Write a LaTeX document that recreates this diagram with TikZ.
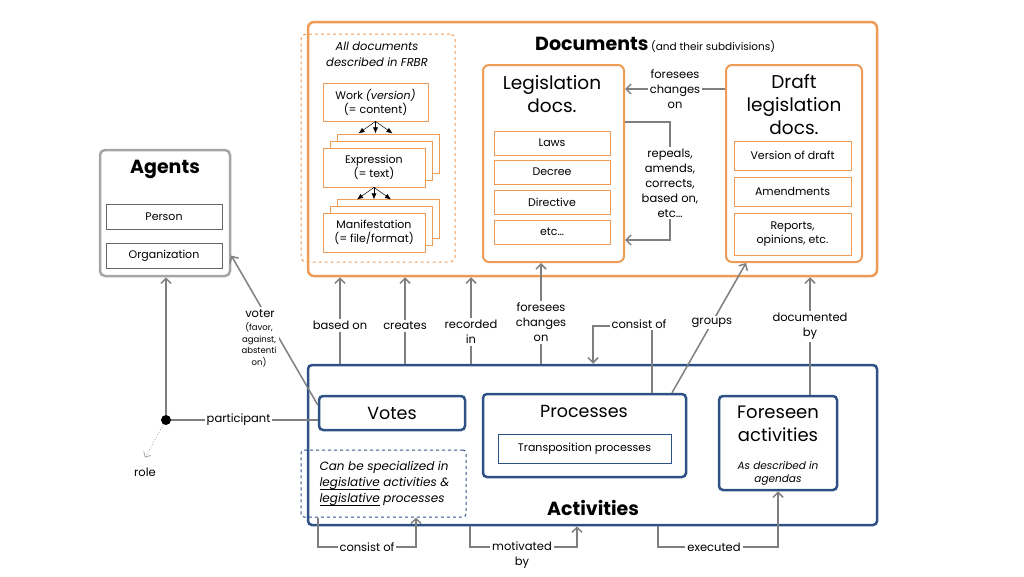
\documentclass[tikz,border=0pt]{standalone}
\usepackage{fontspec}
\setmainfont{Poppins}
\usetikzlibrary{arrows.meta}
\definecolor{docorange}{HTML}{ED9B55}
\definecolor{actblue}{HTML}{2E5185}
\definecolor{agentgray}{HTML}{A5A5A5}
\definecolor{linkgray}{HTML}{7F7F7F}
\newcommand{\fsize}[2]{\fontsize{#1}{#2}\selectfont}
\newcommand{\uword}[1]{\setbox0\hbox{#1}\rlap{\rule[-3pt]{\wd0}{0.7pt}}#1}
\begin{document}
\begin{tikzpicture}[x=1pt, y=-1pt,
    docbox/.style={draw=docorange, line width=2.5pt, rounded corners=6pt},
    docitem/.style={draw=docorange, line width=0.8pt, fill=white, align=center,
                    minimum width=116pt, minimum height=24pt, font=\fsize{11}{14}},
    frbritem/.style={draw=docorange, line width=0.8pt, fill=white, align=center,
                     minimum width=102pt, minimum height=39pt, font=\fsize{11}{14}},
    actbox/.style={draw=actblue, line width=2.5pt, rounded corners=4pt},
    agentitem/.style={draw=gray!80!black, line width=0.6pt, minimum width=116pt,
                      minimum height=25pt, font=\fsize{11}{14}},
    rel/.style={draw=linkgray, line width=1.5pt, -{Straight Barb[length=5pt,width=10pt]}},
    link/.style={draw=linkgray, line width=1.5pt},
    lbl/.style={fill=white, align=center, inner sep=2pt, font=\fsize{11.5}{15}},
    frbrarr/.style={draw=black, line width=0.5pt, -{Latex[length=6pt,width=5pt]}},
  ]
    \useasboundingbox (0,0) rectangle (1024,576);

    % Documents
    \node[docbox, minimum width=569pt, minimum height=254pt] (docs) at (592.5,149) {};
    \node[anchor=base west, inner sep=0pt] (doct) at (535,50)
      {{\fsize{19}{22}\bfseries Documents} {\fsize{10.5}{12}(and their subdivisions)}};

    % FRBR
    \node[draw=docorange, dashed, line width=1pt, rounded corners=5pt,
          minimum width=154pt, minimum height=228pt] (frbr) at (378,148) {};
    \node[font=\fsize{11.5}{16}\itshape, align=center] (frbrt) at (377,54)
      {All documents\\described in FRBR};
    \node[frbritem, minimum width=105pt, minimum height=38pt] (work) at (375.5,102)
      {Work \textit{(version)}\\(= content)};
    \node[frbritem] (expr3) at (388,153.5) {};
    \node[frbritem] (expr2) at (381,160.5) {};
    \node[frbritem] (expr) at (374,167.5) {Expression\\(= text)};
    \node[frbritem] (manif3) at (388,218.5) {};
    \node[frbritem] (manif2) at (381,225.5) {};
    \node[frbritem] (manif) at (374,232.5) {Manifestation\\(= file/format)};
    \foreach \dx in {-17,0,17} {
      \draw[frbrarr] (work.south) -- ++(\dx,12);
      \draw[frbrarr] (expr.south) -- ++(\dx,12);
    }

    % Legislation docs
    \node[docbox, line width=2pt, minimum width=141pt, minimum height=197pt] (legis) at (553.5,163.5) {};
    \node[font=\fsize{18.5}{23}, align=center] (legist) at (552,94) {Legislation\\docs.};
    \node[docitem] (laws) at (552,143) {Laws};
    \node[docitem] (decree) at (552,172) {Decree};
    \node[docitem] (direct) at (552,202.5) {Directive};
    \node[docitem] (etc) at (552,232) {etc\ldots};

    % Draft legislation docs
    \node[docbox, line width=2pt, minimum width=136pt, minimum height=197pt] (draft) at (794,163.5) {};
    \node[font=\fsize{18.5}{23}, align=center] (draftt) at (794,105) {Draft\\legislation\\docs.};
    \node[docitem, minimum width=117pt, minimum height=29pt] (version) at (792.5,155.5) {Version of draft};
    \node[docitem, minimum width=117pt, minimum height=29pt] (amend) at (792.5,191.5) {Amendments};
    \node[docitem, minimum width=117pt, minimum height=42pt] (reports) at (792.5,234) {Reports,\\opinions, etc.};

    \draw[rel] (draft.west |- 0,89) -- (legis.east |- 0,89)
      node[lbl, midway] (lfore) {foresees\\changes\\on};
    \draw[rel] (legis.east |- 0,122) -| (670,183) |- (legis.east |- 0,240);
    \node[lbl] (lrep) at (670,183) {repeals,\\amends,\\corrects,\\based on,\\etc\ldots};

    % Agents
    \node[draw=agentgray, line width=2.5pt, rounded corners=5pt,
          minimum width=130pt, minimum height=126pt] (agents) at (165,213) {};
    \node[font=\fsize{19}{22}\bfseries] (agentt) at (165,169) {Agents};
    \node[agentitem] (person) at (164,216.5) {Person};
    \node[agentitem] (org) at (164,255.5) {Organization};

    % Activities
    \node[actbox, minimum width=569pt, minimum height=160pt] (act) at (592.5,445) {};
    \node[font=\fsize{19}{22}\bfseries] (actt) at (593,508) {Activities};
    \node[actbox, minimum width=146pt, minimum height=34pt, font=\fsize{17.5}{20}] (votes) at (392,413) {Votes};
    \node[actbox, minimum width=203pt, minimum height=83pt] (proc) at (584.5,435.5) {};
    \node[font=\fsize{17.5}{20}] (proct) at (584,411) {Processes};
    \node[draw=actblue, line width=0.8pt, minimum width=173pt, minimum height=29pt,
          font=\fsize{11}{14}] (transp) at (584.5,448.5) {Transposition processes};
    \node[actbox, minimum width=118pt, minimum height=94pt] (fore) at (778,443) {};
    \node[font=\fsize{18}{23}, align=center] (foret) at (778,424) {Foreseen\\activities};
    \node[font=\fsize{10.5}{13}\itshape, align=center] (forenote) at (778,473) {As described in\\agendas};
    \node[draw=actblue, dashed, line width=1pt, rounded corners=3pt,
          minimum width=165pt, minimum height=67pt] (spec) at (383.5,483.5) {};
    \node[anchor=west, align=left, font=\fsize{12}{16}\itshape] (spect) at (316,484)
      {Can be specialized in\\\uword{legislative} activities \&\\\uword{legislative} processes};

    % relations activities -> documents
    \draw[rel] (340,0 |- act.north) -- (340,0 |- docs.south) node[lbl, pos=.44] (lbased) {based on};
    \draw[rel] (405,0 |- act.north) -- (405,0 |- docs.south) node[lbl, pos=.44] (lcreates) {creates};
    \draw[rel] (471,0 |- act.north) -- (471,0 |- docs.south) node[lbl, pos=.37] (lrec) {recorded\\in};
    \draw[rel] (541,0 |- act.north) -- (541,0 |- legis.south) node[lbl, pos=.41] (lfch) {foresees\\changes\\on};
    \draw[rel] (652,0 |- proc.north) |- (593,326) -- (593,0 |- act.north);
    \node[lbl] (lcons) at (639,324) {consist of};
    \draw[rel] (672,0 |- proc.north) -- (746,0 |- draft.south) node[lbl, pos=.54] (lgroups) {groups};
    \draw[rel] (810,0 |- fore.north) -- (810,0 |- docs.south) node[lbl, pos=.58] (ldoc) {documented\\by};

    % agents
    \node[circle, fill=black, inner sep=0pt, minimum size=10pt] (dot) at (166,420) {};
    \draw[rel] (dot) -- (dot |- agents.south);
    \draw[link] (dot) -- (votes.west |- dot) node[lbl, pos=.46] (lpart) {participant};
    \node[lbl] (role) at (145,472) {role};
    \draw[draw=gray!70, line width=0.8pt, dotted, -{Straight Barb[length=4pt,width=8pt]}]
      (dot) -- ([yshift=8pt]role.north);
    \draw[rel] ([yshift=8pt]votes.west) -- (agents.east |- org);
    \node[lbl, inner sep=3pt] (lvoter) at (260,314) {voter};
    \node[lbl, inner sep=3pt, font=\fsize{8.5}{11.5}] (lvote2) at (259,345) {(favor,\\against,\\abstenti\\on)};

    % relations below
    \draw[rel] (318,0 |- spec.south) |- (367,547) -| (416,0 |- spec.south);
    \node[lbl] (lcons2) at (367,547) {consist of};
    \draw[rel] (470,0 |- act.south) |- (522,547) -| (577,0 |- act.south);
    \node[lbl] (lmot) at (522,555) {motivated\\by};
    \draw[rel] (658,0 |- act.south) |- (714,547) -| (fore.south);
    \node[lbl] (lexec) at (714,547) {executed};
\end{tikzpicture}
\end{document}
